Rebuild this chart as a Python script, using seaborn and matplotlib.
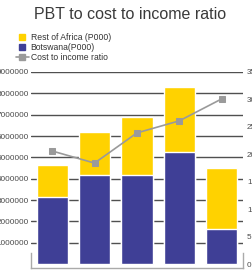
import numpy as np
import pandas as pd
import matplotlib
matplotlib.use("Agg")
import matplotlib.pyplot as plt
from matplotlib.lines import Line2D
from matplotlib.ticker import FuncFormatter
import seaborn as sns

# values
periods = ["P1", "P2", "P3", "P4", "P5"]
botswana = [3130000, 4160000, 4160000, 5230000, 1640000]
rest_of_africa = [1500000, 2040000, 2710000, 3070000, 2850000]
cost_to_income = [20.6, 18.4, 23.9, 26.1, 30.1]

left_ticks = [1000000, 2000000, 3000000, 4000000, 5000000, 6000000, 7000000, 8000000, 9000000]
right_ticks = [0, 5, 10, 15, 20, 25, 30, 35]

YELLOW = "#FFD200"
NAVY = "#3F3F96"
GREY_LINE = "#9A9A9A"
TEXT = "#4a4a4a"
FONT = ["Liberation Sans", "DejaVu Sans"]

sns.set_style("white")
plt.rcParams["font.family"] = FONT

df = pd.DataFrame({
    "period": periods,
    "botswana": botswana,
    "total": np.array(botswana) + np.array(rest_of_africa),
    "ratio": cost_to_income,
})

fig = plt.figure(figsize=(2.52, 2.72), dpi=100)
ax = fig.add_axes([0.123, 0.0136, 0.841, 0.7217])

# stacked bars: total in yellow, Botswana on top of it in navy
sns.barplot(data=df, x="period", y="total", color=YELLOW, saturation=1, width=0.74, ax=ax)
sns.barplot(data=df, x="period", y="botswana", color=NAVY, saturation=1, width=0.74, ax=ax)

ax.set_ylim(-200000, 9000000)
ax.set_xlim(-0.5, 4.5)
ax.set_yticks(left_ticks)
ax.yaxis.set_major_formatter(FuncFormatter(lambda v, p: f"{int(v)}"))
ax.set_xticks([])
ax.set_xlabel("")
ax.set_ylabel("")
ax.set_axisbelow(True)
ax.yaxis.grid(True, color="#505050", linewidth=1.0)
ax.tick_params(axis="y", length=0, pad=1.5, labelsize=5.9, labelcolor=TEXT)

ax.spines["top"].set_visible(False)
for side in ["left", "right", "bottom"]:
    ax.spines[side].set_visible(True)
    ax.spines[side].set_color("#aaaaaa")
    ax.spines[side].set_linewidth(1.0)
ax.spines["left"].set_bounds(-200000, 500000)
ax.spines["right"].set_bounds(-200000, 500000)

# cost to income ratio on the right axis
ax2 = ax.twinx()
sns.lineplot(x=np.arange(len(periods)), y=df["ratio"], ax=ax2, color=GREY_LINE,
             linewidth=1.2, marker="s", markersize=4.5, markeredgecolor=GREY_LINE)
ax2.set_ylim(-35 * 0.2 / 9, 35)
ax2.set_xlim(-0.5, 4.5)
ax2.set_yticks(right_ticks)
ax2.set_ylabel("")
ax2.tick_params(axis="y", length=0, pad=3, labelsize=5.9, labelcolor=TEXT)
for side in ax2.spines:
    ax2.spines[side].set_visible(False)

fig.text(0.516, 1 - 19 / 272, "PBT to cost to income ratio", ha="center", va="baseline",
         fontsize=11.5, color="#3a3a3a", family=FONT)

handles = [
    Line2D([], [], marker="s", color=YELLOW, linestyle="none", markersize=4.5),
    Line2D([], [], marker="s", color=NAVY, linestyle="none", markersize=4.5),
    Line2D([], [], marker="s", color=GREY_LINE, linewidth=1.2, markersize=4.5),
]
labels = ["Rest of Africa (P000)", "Botswana(P000)", "Cost to income ratio"]
fig.legend(handles, labels, loc="upper left", bbox_to_anchor=(0.062, 1 - 33 / 272),
           frameon=False, fontsize=6.2, labelcolor="#333333", handlelength=1.5,
           handletextpad=0.25, labelspacing=0.1, borderaxespad=0, borderpad=0)

fig.savefig("out.png", dpi=100)
